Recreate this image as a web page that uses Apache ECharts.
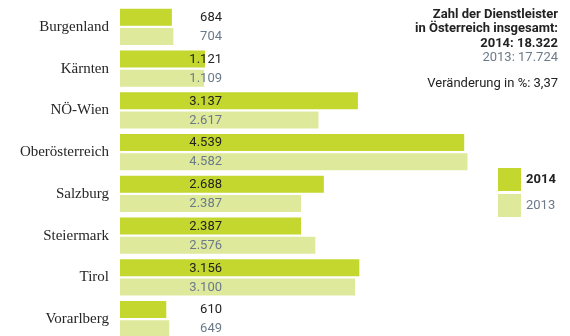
<!DOCTYPE html>
<html>
<head>
<meta charset="utf-8">
<script src="https://cdn.jsdelivr.net/npm/echarts@6/dist/echarts.min.js"></script>
<style>
  html, body { margin: 0; padding: 0; background: #fff; }
  #chart { width: 570px; height: 336px; }
</style>
</head>
<body>
<div id="chart"></div>
<script>
// Dienstleister nach Bundesland, 2014 vs. 2013
const regions = ['Burgenland', 'Kärnten', 'NÖ-Wien', 'Oberösterreich', 'Salzburg', 'Steiermark', 'Tirol', 'Vorarlberg'];
const values2014 = [684, 1121, 3137, 4539, 2688, 2387, 3156, 610];
const values2013 = [704, 1109, 2617, 4582, 2387, 2576, 3100, 649];
const seriesNames = ['2014', '2013'];
const infoLines = [
  'Zahl der Dienstleister',
  'in Österreich insgesamt:',
  '2014: 18.322',
  '2013: 17.724',
  'Veränderung in %: 3,37'
];

const COLOR_2014 = '#c3d72e';
const COLOR_2013 = '#dee99b';
const TEXT_DARK = '#222222';
const TEXT_GREY = '#6b7a8a';
const SANS = 'Roboto, "Liberation Sans", sans-serif';
const SERIF = '"Liberation Serif", "DejaVu Serif", serif';

// German thousands separator
const fmt = v => String(v).replace(/\B(?=(\d{3})+(?!\d))/g, '.');

const chart = echarts.init(document.getElementById('chart'), null, { renderer: 'canvas' });

const barLabel = color => ({
  show: true,
  position: [102, 9],
  align: 'right',
  verticalAlign: 'middle',
  color: color,
  fontFamily: SANS,
  fontSize: 13,
  formatter: p => fmt(p.value)
});

chart.setOption({
  animation: false,
  backgroundColor: '#ffffff',
  grid: { left: 120, top: 6, width: 455, height: 334, containLabel: false, outerBoundsMode: 'none' },
  xAxis: {
    type: 'value', min: 0, max: 6000, show: false
  },
  yAxis: {
    type: 'category',
    data: regions,
    inverse: true,
    axisLine: { show: false },
    axisTick: { show: false },
    splitLine: { show: false },
    axisLabel: {
      margin: 11,
      color: '#262626',
      fontFamily: SERIF,
      fontSize: 15
    }
  },
  legend: {
    orient: 'vertical',
    left: 498,
    top: 168,
    padding: 0,
    itemWidth: 23,
    itemHeight: 23,
    itemGap: 3,
    icon: 'rect',
    selectedMode: false,
    data: [
      { name: seriesNames[0], textStyle: { color: TEXT_DARK, fontWeight: 'bold', fontSize: 13, fontFamily: SANS } },
      { name: seriesNames[1], textStyle: { color: TEXT_GREY, fontSize: 13, fontFamily: SANS } }
    ]
  },
  series: [
    {
      name: seriesNames[0], type: 'bar', data: values2014,
      barWidth: 17, barGap: '12%',
      itemStyle: { color: COLOR_2014 },
      label: barLabel(TEXT_DARK)
    },
    {
      name: seriesNames[1], type: 'bar', data: values2013,
      barWidth: 17,
      itemStyle: { color: COLOR_2013 },
      label: barLabel(TEXT_GREY)
    }
  ],
  graphic: [
    { type: 'text', right: 12, top: 8, style: { text: infoLines[0], fill: TEXT_DARK, font: 'bold 13px ' + SANS, textAlign: 'right' } },
    { type: 'text', right: 12, top: 22, style: { text: infoLines[1], fill: TEXT_DARK, font: 'bold 13px ' + SANS, textAlign: 'right' } },
    { type: 'text', right: 12, top: 37, style: { text: infoLines[2], fill: TEXT_DARK, font: 'bold 13px ' + SANS, textAlign: 'right' } },
    { type: 'text', right: 12, top: 51, style: { text: infoLines[3], fill: TEXT_GREY, font: '13px ' + SANS, textAlign: 'right' } },
    { type: 'text', right: 12, top: 77, style: { text: infoLines[4], fill: TEXT_DARK, font: '13px ' + SANS, textAlign: 'right' } }
  ]
});
</script>
</body>
</html>
